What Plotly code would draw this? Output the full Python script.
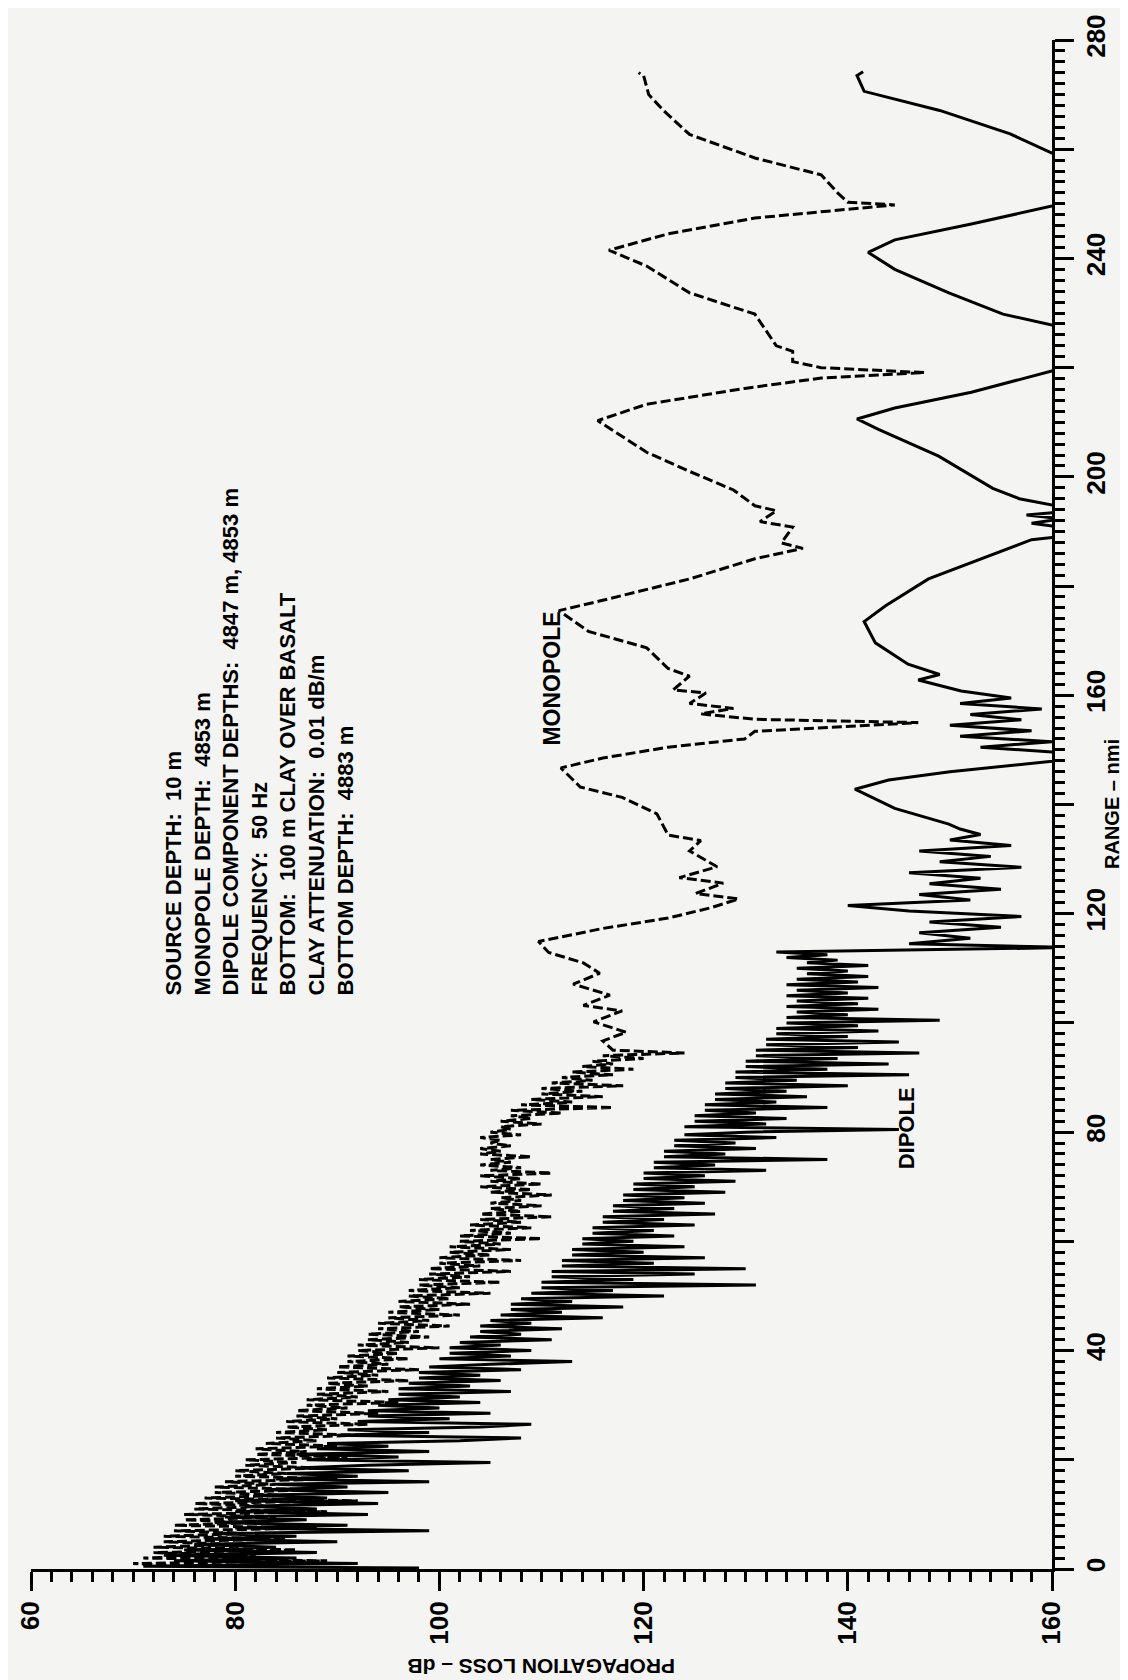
import plotly.graph_objects as go

# ---------------- data (range in nmi, propagation loss in dB) ----------------
# Near-field, rapidly oscillating part: read every 0.5 nmi
near_step = 0.5
monopole_near_start = 0.5
monopole_near_loss = [
    76, 70, 89, 71, 82, 72, 86, 72, 80, 73,
    85, 73, 81, 74, 88, 74, 82, 75, 84, 75,
    89, 76, 83, 76, 92, 77, 85, 78, 88, 78,
    84, 79, 90, 80, 85, 80, 88, 81, 86, 81,
    91, 82, 87, 82, 90, 83, 88, 84, 92, 84,
    89, 85, 93, 85, 90, 86, 94, 86, 91, 87,
    96, 87, 92, 88, 95, 88, 93, 89, 97, 89,
    94, 90, 98, 90, 95, 91, 97, 91, 96, 92,
    100, 92, 97, 93, 99, 93, 98, 94, 101, 94,
    99, 95, 102, 95, 100, 96, 103, 96, 101, 97,
    105, 97, 102, 98, 106, 98, 103, 99, 107, 99,
    104, 100, 108, 100, 105, 101, 107, 101, 106, 102,
    110, 102, 107, 103, 109, 103, 108, 104, 111, 104,
    108, 105, 110, 105, 108, 106, 111, 105, 109, 104,
    110, 105, 108, 104, 111, 105, 108, 104, 107, 105,
    109, 104, 106, 104, 107, 105, 106, 104, 108, 105,
    107, 106, 110, 106, 109, 107, 112, 107, 117, 108,
    113, 109, 116, 110, 114, 110, 118, 111, 115, 112,
    117, 113, 119, 114, 117, 115, 120, 116, 124, 117]
# Far part, read at its turning points
monopole_far_range = [96.7, 98.3, 100.2, 102.2, 103.2, 105.1, 107.1, 109.1, 111.0, 112.9, 114.9,
                      117.3, 119.2, 121.1, 122.7, 123.7, 125.6, 126.6, 128.6, 131.5, 133.4, 134.4,
                      138.3, 141.3, 143.2, 146.7, 148.5, 150.5, 152.0, 153.4, 155.0, 155.6, 156.6,
                      157.6, 158.5, 160.4, 161.0, 163.5, 164.9, 168.7, 171.7, 175.5, 177.4, 181.3,
                      185.0, 186.9, 187.9, 190.8, 191.8, 193.8, 194.7, 197.6, 201.0, 204.5, 210.3,
                      213.3, 216.2, 218.1, 219.1, 220.0, 221.1, 223.0, 224.0, 229.8, 233.7, 238.6,
                      241.5, 244.5, 247.4, 249.0, 249.8, 250.3, 252.0, 255.3, 258.4, 262.7, 267.0,
                      270.0, 273.5, 274.0]
monopole_far_loss = [116, 118.3, 115.1, 117.9, 114.1, 116.7, 113.1, 115.7, 114.1, 110.7, 109.7,
                     116.0, 122.4, 126.6, 129.3, 125.1, 127.8, 123.5, 127.2, 124.5, 125.6, 122.4,
                     121.3, 117.9, 113.8, 111.9, 116.0, 122.4, 129.9, 130.9, 146.9, 130.9, 125.6,
                     128.8, 124.5, 126.1, 122.9, 124.5, 122.4, 120.3, 114.6, 111.7, 116.0, 124.5,
                     130.9, 135.6, 133.5, 134.6, 131.4, 133.0, 130.9, 128.8, 124.5, 120.3, 115.5,
                     120.3, 129.9, 137.4, 147.5, 137.4, 134.6, 134.6, 133.0, 130.9, 124.5, 120.3,
                     116.6, 122.4, 130.9, 139.6, 144.6, 140.0, 139.0, 137.4, 130.9, 124.5, 122.0,
                     120.5, 120.0, 119.5]

dipole_first_range = [0.2]
dipole_first_loss = [98]
dipole_near_start = 0.5
dipole_near_loss = [
    71, 92, 74, 86, 73, 88, 75, 84, 76, 90,
    77, 86, 78, 99, 80, 91, 78, 87, 79, 93,
    80, 88, 81, 94, 80, 89, 82, 95, 83, 91,
    84, 99, 84, 92, 85, 97, 86, 93, 105, 87,
    96, 86, 99, 88, 95, 89, 102, 108, 90, 99,
    91, 104, 109, 92, 101, 93, 105, 93, 100, 94,
    104, 95, 102, 96, 107, 96, 103, 97, 106, 98,
    104, 98, 108, 99, 105, 113, 100, 107, 101, 109,
    101, 106, 102, 111, 103, 108, 104, 112, 104, 109,
    105, 116, 106, 112, 107, 118, 107, 113, 108, 122,
    109, 117, 110, 131, 110, 119, 111, 125, 111, 130,
    112, 121, 112, 126, 113, 120, 113, 124, 114, 119,
    114, 123, 115, 121, 115, 125, 116, 122, 116, 127,
    117, 123, 117, 126, 118, 124, 118, 128, 119, 125,
    119, 129, 120, 126, 120, 132, 121, 127, 121, 138,
    122, 128, 122, 131, 123, 129, 123, 133, 124, 130,
    145, 124, 132, 125, 134, 125, 131, 126, 138, 126,
    133, 127, 136, 127, 134, 128, 140, 128, 135, 129,
    146, 129, 138, 130, 144, 130, 139, 131, 147, 131,
    141, 132, 145, 132, 140, 133, 143, 133, 141, 134,
    149, 134, 140, 135, 143, 134, 141, 135, 142, 134,
    140, 135, 143, 134, 141, 135, 142, 136, 140, 135,
    142, 136, 139, 134, 138, 133]
dipole_far_range = [113.8, 114.5, 115.5, 116.5, 117.5, 118.5, 119.5, 120.5, 121.5, 122.5, 123.5,
                    124.5, 125.5, 126.5, 127.5, 128.5, 129.5, 130.5, 131.5, 132.5, 133.5, 134.5,
                    135.5, 136.4, 139.3, 142.8, 144.5, 146.0, 147.5, 148.5, 149.5, 150.5, 151.5,
                    152.5, 153.5, 154.5, 155.5, 156.5, 157.5, 158.5, 159.5, 160.8, 162.8, 163.8,
                    165.7, 169.6, 173.5, 176.4, 181.3, 184.3, 187.2, 188.5, 189.1, 190.5, 191.5,
                    192.3, 193.0, 193.8, 194.5, 196.0, 197.9, 203.8, 208.7, 210.6, 212.6, 215.5,
                    219.4, 222.0, 226.0, 227.8, 229.8, 233.7, 238.0, 241.1, 243.4, 246.3, 249.6,
                    254.0, 257.0, 259.3, 262.8, 267.1, 270.6, 273.5, 274.2]
dipole_far_loss = [162, 146, 152, 147, 155, 148, 157, 146, 140, 152, 147,
                   155, 148, 153, 146, 157, 149, 154, 147, 156, 150, 153,
                   151, 149.9, 144.6, 140.7, 144, 150, 158, 163, 161, 153, 160,
                   151, 158, 150, 157, 152, 159, 151, 156, 151.1, 146.9, 149.0,
                   145.9, 142.7, 141.6, 143.7, 147.9, 152.1, 156.3, 158, 161, 162, 158,
                   161, 157.5, 162, 161, 156.8, 154.2, 148.9, 143.0, 140.9, 144.6, 152.1,
                   160, 165, 165, 160, 155.2, 149.9, 144.6, 142.0, 144.6, 152.1, 160,
                   166, 163, 160, 155.9, 149.0, 141.6, 140.9, 141.5]

loss_ticks = [60, 80, 100, 120, 140, 160]
range_ticks = [0, 20, 40, 60, 80, 100, 120, 140, 160, 180, 200, 220, 240, 260, 280]
range_ticktext = ["0", "", "40", "", "80", "", "120", "", "160", "", "200", "", "240", "", "280"]

info_lines = ["SOURCE DEPTH:\u00a0\u00a010 m",
              "MONOPOLE DEPTH:\u00a0\u00a04853 m",
              "DIPOLE COMPONENT DEPTHS:\u00a0\u00a04847 m, 4853 m",
              "FREQUENCY:\u00a0\u00a050 Hz",
              "BOTTOM:\u00a0\u00a0100 m CLAY OVER BASALT",
              "CLAY ATTENUATION:\u00a0\u00a00.01 dB/m",
              "BOTTOM DEPTH:\u00a0\u00a04883 m"]

# assemble full series (near part sampled on the 0.5 nmi reading grid)
monopole_range = [monopole_near_start + i * near_step for i in range(len(monopole_near_loss))] + monopole_far_range
monopole_loss = monopole_near_loss + monopole_far_loss
dipole_range = dipole_first_range + [dipole_near_start + i * near_step for i in range(len(dipole_near_loss))] + dipole_far_range
dipole_loss = dipole_first_loss + dipole_near_loss + dipole_far_loss

# ---------------- figure ----------------
FONT = "Liberation Sans, Arial, sans-serif"
BG = "#f4f4f2"
W, H = 1128, 1680
ML, MR, MT, MB = 23, 84, 32, 119
PW, PH = W - ML - MR, H - MT - MB

fig = go.Figure()
fig.add_trace(go.Scatter(x=dipole_loss, y=dipole_range, mode="lines",
                         line=dict(color="black", width=3), name="DIPOLE"))
fig.add_trace(go.Scatter(x=monopole_loss, y=monopole_range, mode="lines",
                         line=dict(color="black", width=3, dash="10px,4px"), name="MONOPOLE"))

axis_common = dict(showline=True, linecolor="black", linewidth=3, ticks="outside",
                   ticklen=19, tickwidth=3, tickcolor="black", showgrid=False, zeroline=False,
                   tickangle=-90, automargin=False,
                   tickfont=dict(family=FONT, size=26, color="black", weight="bold"))

fig.update_xaxes(range=[60, 160], tickmode="array", tickvals=loss_ticks,
                 ticktext=[str(v) for v in loss_ticks],
                 minor=dict(ticks="outside", ticklen=10, tickwidth=3, tickcolor="black",
                            tickmode="linear", tick0=60, dtick=2, showgrid=False),
                 **axis_common)
fig.update_yaxes(range=[0, 280], side="right", tickmode="array", tickvals=range_ticks,
                 ticktext=range_ticktext,
                 minor=dict(ticks="outside", ticklen=10, tickwidth=3, tickcolor="black",
                            tickmode="linear", tick0=0, dtick=2, showgrid=False),
                 **axis_common)

def px_to_paper(px, py):
    return (px - ML) / PW, (H - MB - py) / PH

ann = []
tx, ty = px_to_paper(533, 1659)
ann.append(dict(text="PROPAGATION LOSS \u2013 dB", x=tx, y=ty, xref="paper", yref="paper",
                showarrow=False, textangle=180, xanchor="center", yanchor="middle",
                font=dict(family=FONT, size=21, color="black", weight="bold")))
rx, ry = px_to_paper(1104, 796)
ann.append(dict(text="RANGE \u2013 nmi", x=rx, y=ry, xref="paper", yref="paper",
                showarrow=False, textangle=-90, xanchor="center", yanchor="middle",
                font=dict(family=FONT, size=20, color="black", weight="bold")))
ann.append(dict(text="<br>".join(info_lines), x=82.4, y=151.5, xref="x", yref="y",
                showarrow=False, textangle=-90, align="left", xanchor="center", yanchor="middle",
                font=dict(family=FONT, size=22, color="black", weight="bold")))
ann.append(dict(text="MONOPOLE", x=111, y=163, xref="x", yref="y", showarrow=False,
                textangle=-90, xanchor="center", yanchor="middle",
                font=dict(family=FONT, size=23, color="black", weight="bold")))
ann.append(dict(text="DIPOLE", x=145.7, y=80.7, xref="x", yref="y", showarrow=False,
                textangle=-90, xanchor="center", yanchor="middle",
                font=dict(family=FONT, size=22, color="black", weight="bold")))

fig.update_layout(width=W, height=H, margin=dict(l=ML, r=MR, t=MT, b=MB, autoexpand=False),
                  paper_bgcolor=BG, plot_bgcolor=BG, showlegend=False, annotations=ann)

fig.write_html("out.html")
